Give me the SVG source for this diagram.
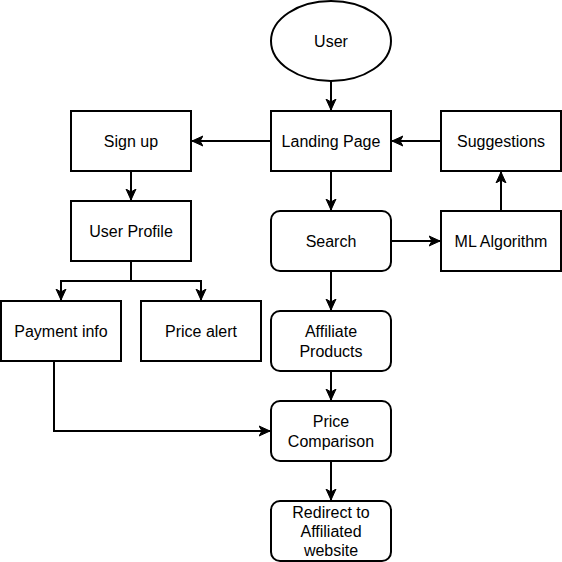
<svg xmlns="http://www.w3.org/2000/svg" width="562" height="562" viewBox="0 0 562 562">
<style>
.box{fill:#fff;stroke:#000;stroke-width:2}
.lbl{font-family:"Liberation Sans",Arial,sans-serif;font-size:16px;fill:#000;text-anchor:middle}
.edge{fill:none;stroke:#000;stroke-width:2;marker-end:url(#arr)}
</style>
<defs>
<marker id="arr" markerUnits="userSpaceOnUse" markerWidth="12" markerHeight="12" viewBox="0 0 12 12" refX="11" refY="6" orient="auto">
<path d="M0,1 L11,6 L0,11 L3,6 z" fill="#000" stroke="#000" stroke-width="1"/>
</marker>
</defs>
<rect width="562" height="562" fill="#fff"/>
<g id="connectors">
<path class="edge" d="M331,81 V110"/>
<path class="edge" d="M271,141 H192"/>
<path class="edge" d="M441,141 H392"/>
<path class="edge" d="M331,171 V210"/>
<path class="edge" d="M391,241 H440"/>
<path class="edge" d="M501,211 V172"/>
<path class="edge" d="M131,171 V200"/>
<path class="edge" d="M131,261 V281 H61 V300"/>
<path class="edge" d="M131,281 H201 V300"/>
<path class="edge" d="M331,271 V310"/>
<path class="edge" d="M331,371 V400"/>
<path class="edge" d="M54,361 V431 H270"/>
<path class="edge" d="M331,461 V500"/>
</g>
<g id="user"><ellipse class="box" cx="331" cy="41" rx="60" ry="40"/><text class="lbl" x="331" y="47">User</text></g>
<g id="landing"><rect class="box" x="271" y="111" width="120" height="60"/><text class="lbl" x="331" y="147">Landing Page</text></g>
<g id="signup"><rect class="box" x="71" y="111" width="120" height="60"/><text class="lbl" x="131" y="147">Sign up</text></g>
<g id="suggestions"><rect class="box" x="441" y="111" width="120" height="60"/><text class="lbl" x="501" y="147">Suggestions</text></g>
<g id="search"><rect class="box" x="271" y="211" width="120" height="60" rx="9"/><text class="lbl" x="331" y="247">Search</text></g>
<g id="ml"><rect class="box" x="441" y="211" width="120" height="60"/><text class="lbl" x="501" y="247">ML Algorithm</text></g>
<g id="profile"><rect class="box" x="71" y="201" width="120" height="60"/><text class="lbl" x="131" y="237">User Profile</text></g>
<g id="payment"><rect class="box" x="1" y="301" width="120" height="60"/><text class="lbl" x="61" y="337">Payment info</text></g>
<g id="alert"><rect class="box" x="141" y="301" width="120" height="60"/><text class="lbl" x="201" y="337">Price alert</text></g>
<g id="affiliate"><rect class="box" x="271" y="311" width="120" height="60" rx="9"/><text class="lbl" x="331" y="337">Affiliate</text><text class="lbl" x="331" y="357">Products</text></g>
<g id="comparison"><rect class="box" x="271" y="401" width="120" height="60" rx="9"/><text class="lbl" x="331" y="427">Price</text><text class="lbl" x="331" y="447">Comparison</text></g>
<g id="redirect"><rect class="box" x="271" y="501" width="120" height="60" rx="9"/><text class="lbl" x="331" y="518">Redirect to</text><text class="lbl" x="331" y="537">Affiliated</text><text class="lbl" x="331" y="556">website</text></g>
</svg>
